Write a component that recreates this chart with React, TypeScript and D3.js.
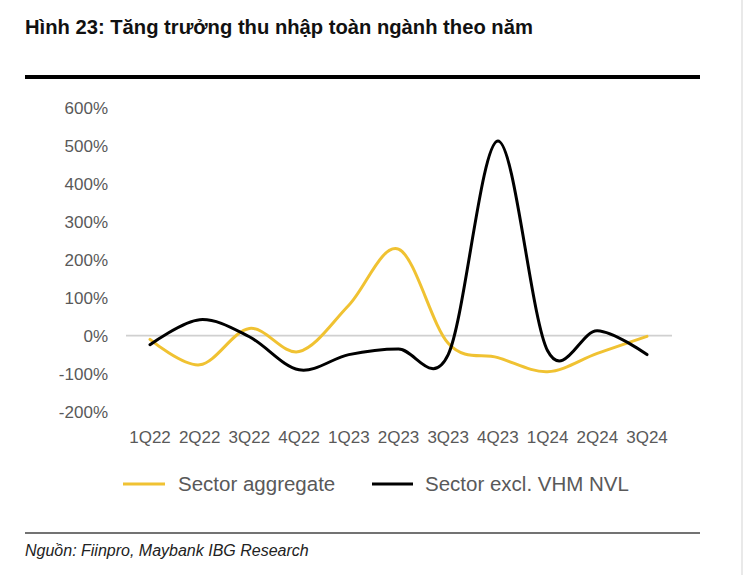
import React from "react";
import * as d3 from "d3";

const categories = ["1Q22", "2Q22", "3Q22", "4Q22", "1Q23", "2Q23", "3Q23", "4Q23", "1Q24", "2Q24", "3Q24"];
const sectorAggregate = [-10, -77, 19, -42, 80, 228, -20, -58, -95, -47, -2];
const sectorExclVhmNvl = [-24, 42, -3, -90, -50, -35, -50, 513, -40, 13, -50];
const yTicks = [600, 500, 400, 300, 200, 100, 0, -100, -200];

const W = 751;
const H = 575;
const YELLOW = "#F0C232";
const FONT = "'Liberation Sans', Arial, sans-serif";

export default function App() {
  const x = d3.scalePoint<string>().domain(categories).range([150, 647]);
  const y = d3.scaleLinear().domain([-200, 600]).range([411.5, 108]);
  const line = d3
    .line<number>()
    .x((_, i) => x(categories[i]) as number)
    .y((d) => y(d))
    .curve(d3.curveCatmullRom.alpha(0));

  return (
    <svg
      width={W}
      height={H}
      viewBox={`0 0 ${W} ${H}`}
      style={{ position: "absolute", left: 0, top: 0, background: "#fff" }}
    >
      <rect x={0} y={0} width={W} height={H} fill="#fff" />
      <line x1={742} x2={742} y1={0} y2={H} stroke="#e2e2e2" strokeWidth={1.5} />
      <text x={25} y={34} fontFamily={FONT} fontWeight="bold" fontSize={20.2} fill="#111">
        Hình 23: Tăng trưởng thu nhập toàn ngành theo năm
      </text>
      <line x1={25} x2={700} y1={77} y2={77} stroke="#000" strokeWidth={4} />

      {yTicks.map((t) => (
        <text
          key={t}
          x={108}
          y={y(t)}
          dy="0.36em"
          textAnchor="end"
          fontFamily={FONT}
          fontSize={17}
          fill="#595959"
        >
          {`${t}%`}
        </text>
      ))}
      <line x1={126} x2={672} y1={y(0)} y2={y(0)} stroke="#d0d0d0" strokeWidth={1.8} />

      {categories.map((c) => (
        <text
          key={c}
          x={x(c) as number}
          y={443}
          textAnchor="middle"
          fontFamily={FONT}
          fontSize={17}
          fill="#595959"
        >
          {c}
        </text>
      ))}

      <path d={line(sectorAggregate) || ""} fill="none" stroke={YELLOW} strokeWidth={3} strokeLinecap="round" />
      <path d={line(sectorExclVhmNvl) || ""} fill="none" stroke="#000" strokeWidth={3} strokeLinecap="round" />

      <line x1={123} x2={165} y1={484} y2={484} stroke={YELLOW} strokeWidth={3} />
      <text x={178} y={491} fontFamily={FONT} fontSize={20.5} fill="#595959">
        Sector aggregate
      </text>
      <line x1={372} x2={413} y1={484} y2={484} stroke="#000" strokeWidth={3} />
      <text x={425} y={491} fontFamily={FONT} fontSize={20.5} fill="#595959">
        Sector excl. VHM NVL
      </text>

      <line x1={25} x2={700} y1={533} y2={533} stroke="#444" strokeWidth={1.5} />
      <text x={25} y={556} fontFamily={FONT} fontStyle="italic" fontSize={16} fill="#222">
        Nguồn: Fiinpro, Maybank IBG Research
      </text>
    </svg>
  );
}
